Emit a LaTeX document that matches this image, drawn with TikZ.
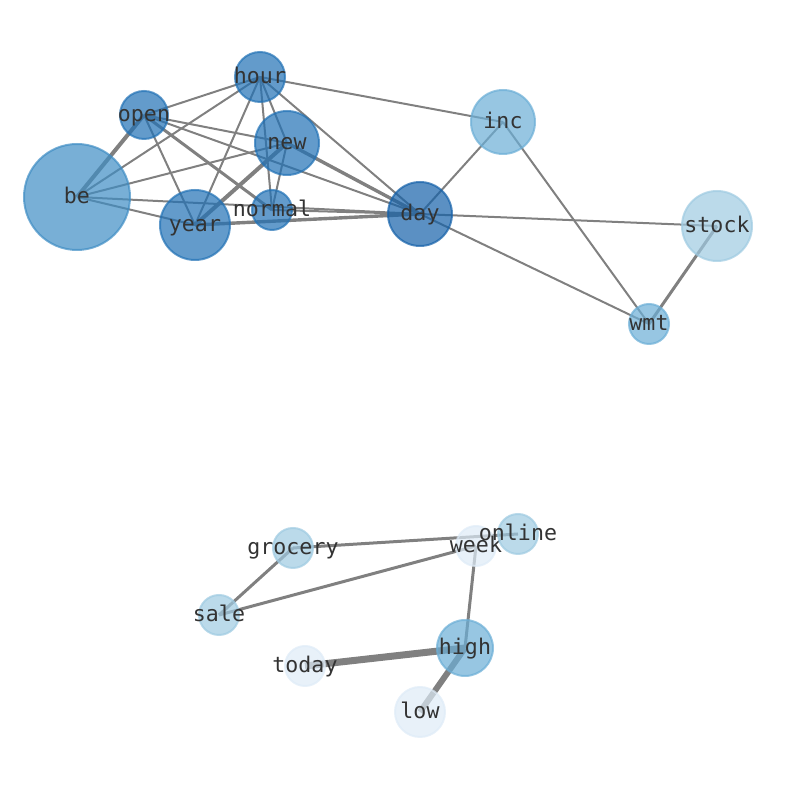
\documentclass[tikz,border=0pt]{standalone}
\usepackage{fontspec}
\setmonofont{DejaVu Sans Mono}
\usetikzlibrary{backgrounds}
\definecolor{bluesA}{HTML}{DEEBF7}
\definecolor{bluesB}{HTML}{9ECAE1}
\definecolor{bluesC}{HTML}{6BAED6}
\definecolor{bluesD}{HTML}{3F8DC4}
\definecolor{bluesE}{HTML}{2171B5}
\definecolor{bluesF}{HTML}{1561A9}
\tikzset{
  word/.style={
      circle,
      draw,
      fill,
      fill opacity=.7,
      draw opacity=.7,
      line width=1pt,
      inner sep=0pt,
      minimum size=#1,
  },
  every label/.style={
      text=black!80,
      text opacity=1,
      font=\ttfamily\fontsize{10.8}{12}\selectfont,
      text height=8.6pt,
      text depth=1.9pt,
      inner sep=0pt,
  },
  link/.style={draw=gray, line width=#1},
  link/.default=1pt
}

\begin{document}
\begin{tikzpicture}[x=0.5pt, y=-0.5pt]
    \useasboundingbox (0,0) rectangle (794,790);
    % upper group
    \node[word=53pt, color=bluesD, label=center:be] (be) at (77,197) {};
    \node[word=25pt, color=bluesE, label=center:hour] (hour) at (260,77) {};
    \node[word=24pt, color=bluesE, label=center:open] (open) at (144,115) {};
    \node[word=32pt, color=bluesE, label=center:new] (new) at (287,143) {};
    \node[word=35pt, color=bluesE, label=center:year] (year) at (195,225) {};
    \node[word=20pt, color=bluesE, label=center:normal] (normal) at (272,210) {};
    \node[word=32pt, color=bluesF, label=center:day] (day) at (420,214) {};
    \node[word=32pt, color=bluesC, label=center:inc] (inc) at (503,122) {};
    \node[word=35pt, color=bluesB, label=center:stock] (stock) at (717,226) {};
    \node[word=20pt, color=bluesC, label=center:wmt] (wmt) at (649,324) {};
    % lower group
    \node[word=20pt, color=bluesB, label=center:grocery] (grocery) at (293,548) {};
    \node[word=20pt, color=bluesA, label=center:week] (week) at (476,546) {};
    \node[word=20pt, color=bluesB, label=center:online] (online) at (518,534) {};
    \node[word=20pt, color=bluesB, label=center:sale] (sale) at (219,615) {};
    \node[word=28pt, color=bluesC, label=center:high] (high) at (465,648) {};
    \node[word=20pt, color=bluesA, label=center:today] (today) at (305,666) {};
    \node[word=25pt, color=bluesA, label=center:low] (low) at (420,712) {};

    \begin{scope}[on background layer]
        \foreach \a/\b in {hour/open, hour/be, hour/year, hour/normal, hour/new,
            hour/day, hour/inc, open/year, open/new, open/day, be/new, be/year,
            be/day, new/normal, normal/day, day/inc, day/stock, day/wmt, inc/wmt}
            \draw[link] (\a.center) -- (\b.center);
        \draw[link=2pt] (open.center) -- (be.center);
        \draw[link=1.5pt] (open.center) -- (normal.center);
        \draw[link=2pt] (year.center) -- (new.center);
        \draw[link=1.7pt] (year.center) -- (day.center);
        \draw[link=1.7pt] (new.center) -- (day.center);
        \draw[link=1.5pt] (stock.center) -- (wmt.center);
        \foreach \a/\b in {grocery/online, grocery/sale, sale/week, week/high}
            \draw[link=1.5pt] (\a.center) -- (\b.center);
        \draw[link=3.5pt] (today.center) -- (high.center);
        \draw[link=3pt] (high.center) -- (low.center);
    \end{scope}
\end{tikzpicture}
\end{document}
